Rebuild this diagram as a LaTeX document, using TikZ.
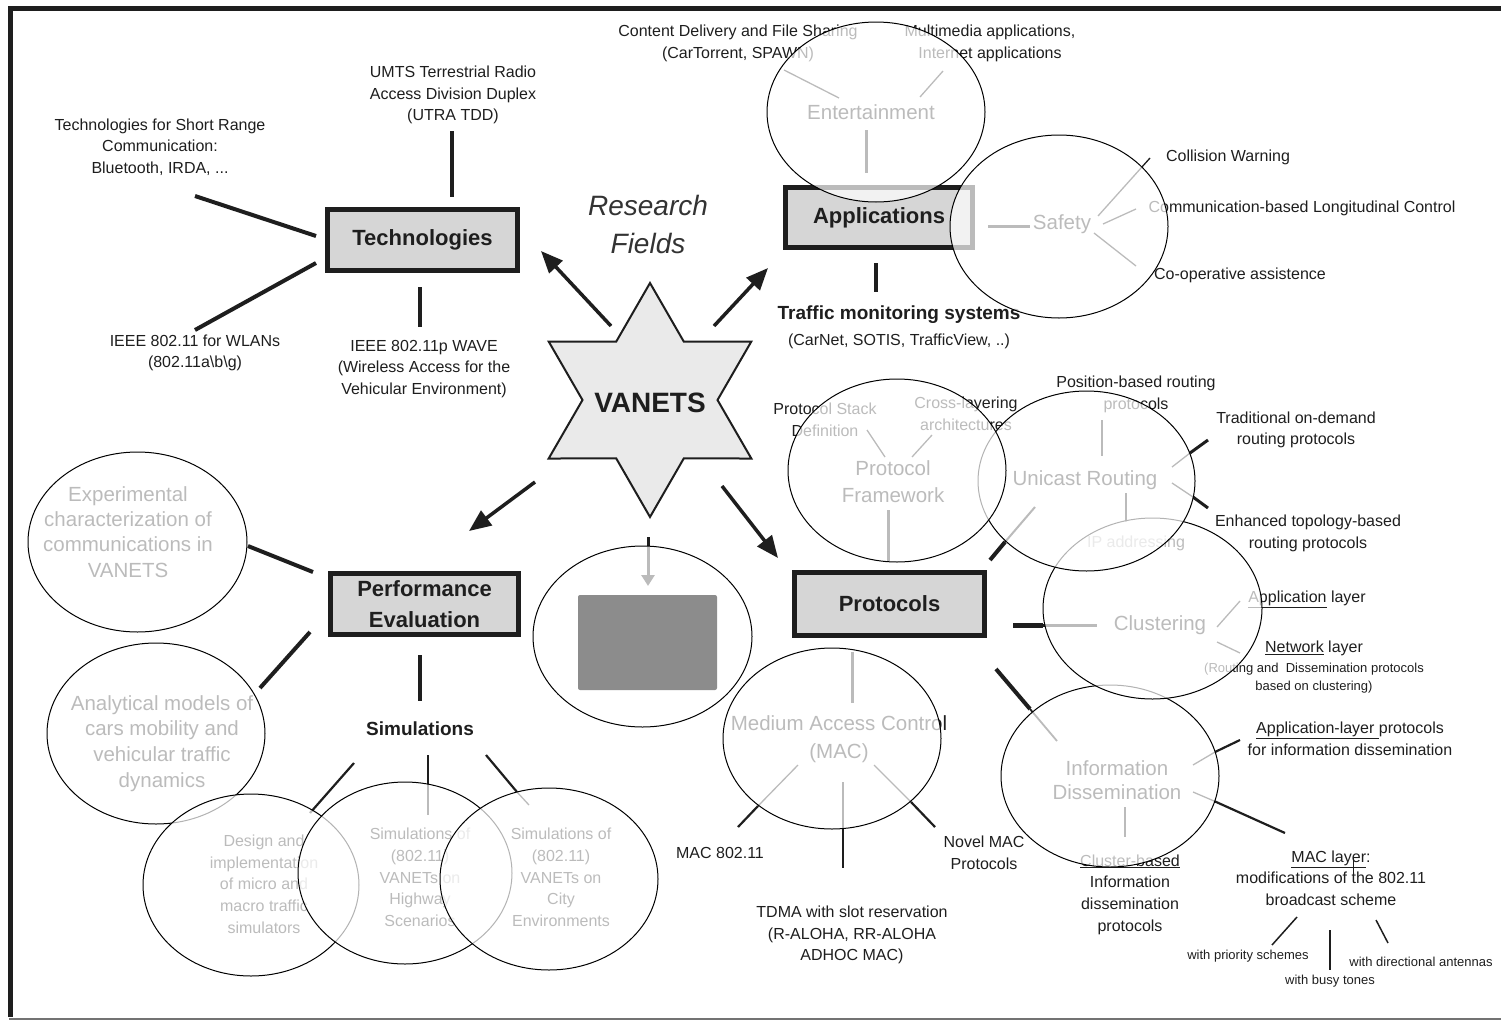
\documentclass[tikz,border=0pt]{standalone}
\usepackage{fontspec}
\setmainfont{Liberation Sans}
\usetikzlibrary{arrows.meta,shapes.geometric}
\definecolor{boxgray}{HTML}{D6D6D6}
\definecolor{stargray}{HTML}{EAEAEA}
\definecolor{ink}{HTML}{1E1E1E}
\begin{document}
\begin{tikzpicture}[x=1pt,y=-1pt,
  every node/.style={text=ink},
  lbl/.style={font=\fontsize{16}{21.7}\selectfont, align=center, inner sep=0pt},
  small/.style={font=\fontsize{13}{18}\selectfont, align=center, inner sep=0pt},
  topic/.style={font=\fontsize{20.5}{25.5}\selectfont, align=center, inner sep=0pt},
  bold19/.style={font=\bfseries\fontsize{19}{24}\selectfont, inner sep=0pt},
  field/.style={draw=ink, line width=5pt, fill=boxgray, align=center, inner sep=0pt,
                font=\bfseries\fontsize{22}{31}\selectfont},
  thickl/.style={draw=ink, line width=4pt},
  medl/.style={draw=ink, line width=2.2pt},
  thinl/.style={draw=ink, line width=1.3pt},
  ray/.style={draw=ink, line width=3.5pt, -{Triangle[length=22pt,width=18pt]}},
  zone/.style={ellipse, draw=black, line width=1pt, fill=white, fill opacity=0.7, inner sep=0pt},
]
\useasboundingbox (0,0) rectangle (1501,1020);

% page frame
\draw[line width=5pt, ink] (1501,8) -- (10,8) -- (10,1017);
\draw[line width=2pt, black!55] (9,1018.5) -- (1501,1018.5);

% ---------------- central star ----------------
\filldraw[fill=stargray, draw=ink, line width=2pt, shift={(650,400)}]
  (90:117) -- (120:67.5) -- (150:117) -- (180:67.5) -- (210:117) -- (240:67.5)
  -- (270:117) -- (300:67.5) -- (330:117) -- (0:67.5) -- (30:117) -- (60:67.5) -- cycle;
\node[font=\bfseries\fontsize{28}{30}\selectfont, inner sep=0pt] (vanets) at (650,403) {VANETS};
\node[font=\itshape\fontsize{28}{38}\selectfont, align=center, inner sep=0pt, text=black!80] (rf) at (648,224) {Research\\Fields};

% ---------------- field boxes ----------------
\node[field, minimum width=190pt, minimum height=61pt] (tech) at (422.5,240) {Technologies};
\node[field, minimum width=187pt, minimum height=60pt] (app) at (879,217.5) {Applications};
\node[field, minimum width=188pt, minimum height=61pt] (perf) at (424.5,604) {Performance\\Evaluation};
\node[field, minimum width=190pt, minimum height=63pt] (prot) at (889.5,604) {Protocols};

% ---------------- connector end points ----------------
\path
  (611,326) coordinate (sT)  (541,251) coordinate (hT)
  (714,326) coordinate (sA)  (768,268) coordinate (hA)
  (535,482) coordinate (sP)  (469,531) coordinate (hP)
  (722,486) coordinate (sR)  (778,558) coordinate (hR)
  (648,537) coordinate (sD)  (648,586) coordinate (hD)
  % technologies
  (195,196) coordinate (t1) (316,236) coordinate (t2)
  (195,330) coordinate (t3) (316,263) coordinate (t4)
  (452,131) coordinate (t5) (452,197) coordinate (t6)
  (420,287) coordinate (t7) (420,327) coordinate (t8)
  % applications
  (784,70) coordinate (a1) (839,98) coordinate (a2)
  (943,71) coordinate (a3) (920,97) coordinate (a4)
  (866,130) coordinate (a5) (866,173) coordinate (a6)
  (988,226) coordinate (a7) (1030,226) coordinate (a8)
  (876,263) coordinate (a9) (876,292) coordinate (a10)
  (1098,216) coordinate (s1) (1150,158) coordinate (s2)
  (1103,224) coordinate (s3) (1136,209) coordinate (s4)
  (1094,233) coordinate (s5) (1136,266) coordinate (s6)
  % protocols
  (888,510) coordinate (p1) (888,561) coordinate (p2)
  (867,430) coordinate (p3) (885,457) coordinate (p4)
  (932,435) coordinate (p5) (912,457) coordinate (p6)
  (1102,420) coordinate (u1) (1102,456) coordinate (u2)
  (1126,493) coordinate (u3) (1126,522) coordinate (u4)
  (1172,467) coordinate (u5) (1190,453) coordinate (ub1) (1208,440) coordinate (u6)
  (1172,483) coordinate (u7) (1193,497) coordinate (ub2) (1208,508) coordinate (u8)
  (990,560) coordinate (u9) (1005,542) coordinate (ub3) (1035,507) coordinate (u10)
  (1013,625) coordinate (c1) (1043,625) coordinate (cb) (1097,625) coordinate (c2)
  (1217,627) coordinate (c3) (1240,601) coordinate (c4)
  (1217,642) coordinate (c5) (1240,653) coordinate (c6)
  (996,669) coordinate (i1) (1030,709) coordinate (ib1) (1057,741) coordinate (i2)
  (1125,807) coordinate (i3) (1125,837) coordinate (i4)
  (1193,765) coordinate (i5) (1215,752) coordinate (ib2) (1240,740) coordinate (i6)
  (1193,792) coordinate (i7) (1214,801) coordinate (ib3) (1285,833) coordinate (i8)
  (1297,917) coordinate (i9) (1272,945) coordinate (i10)
  (1330,930) coordinate (i11) (1330,970) coordinate (i12)
  (1376,920) coordinate (i13) (1388,943) coordinate (i14)
  (1353,858) coordinate (i15) (1353,877) coordinate (i16)
  (852,652) coordinate (m1) (852,703) coordinate (m2)
  (798,765) coordinate (m3) (758,806) coordinate (mb1) (738,827) coordinate (m4)
  (843,782) coordinate (m5) (843,868) coordinate (m6)
  (874,765) coordinate (m7) (911,802) coordinate (mb2) (935,827) coordinate (m8)
  % performance evaluation
  (248,546) coordinate (e1) (313,572) coordinate (e2)
  (260,688) coordinate (e3) (310,632) coordinate (e4)
  (420,655) coordinate (e5) (420,701) coordinate (e6)
  (354,763) coordinate (e7) (310,813) coordinate (e8)
  (428,755) coordinate (e9) (428,815) coordinate (e10)
  (486,755) coordinate (e11) (517,792) coordinate (eb) (529,805) coordinate (e12);

% ---------------- arrows out of the star ----------------
\draw[ray] (sT) -- (hT);
\draw[ray] (sA) -- (hA);
\draw[ray] (sP) -- (hP);
\draw[ray] (sR) -- (hR);
\draw[draw=ink, line width=3pt, -{Triangle[length=11pt,width=13pt]}] (sD) -- (hD);

% ---------------- Technologies ----------------
\node[lbl] (utra) at (453,95) {UMTS Terrestrial Radio\\Access Division Duplex\\(UTRA TDD)};
\node[lbl] (short) at (160,147) {Technologies for Short Range\\Communication:\\Bluetooth, IRDA, ...};
\node[lbl] (wlan) at (195,353) {IEEE 802.11 for WLANs\\(802.11a\textbackslash b\textbackslash g)};
\node[lbl] (wave) at (424,369) {IEEE 802.11p WAVE\\(Wireless Access for the\\Vehicular Environment)};
\draw[thickl] (t1) -- (t2);
\draw[thickl] (t3) -- (t4);
\draw[thickl] (t5) -- (t6);
\draw[thickl] (t7) -- (t8);

% ---------------- Applications ----------------
\node[lbl] (cdfs) at (738,43.5) {Content Delivery and File Sharing\\(CarTorrent, SPAWN)};
\node[lbl] (mm) at (990,43.5) {Multimedia applications,\\Internet applications};
\node[topic] (ent) at (871,112) {Entertainment};
\node[topic] (safety) at (1062,224) {Safety};
\node[lbl] (cw) at (1228,157) {Collision Warning};
\node[lbl] (cblc) at (1302,208) {Communication-based Longitudinal Control};
\node[lbl] (coop) at (1240,275) {Co-operative assistence};
\node[bold19] (tms) at (899,315) {Traffic monitoring systems};
\node[lbl] (tmsx) at (899,341) {(CarNet, SOTIS, TrafficView, ..)};
\draw[thinl] (a1) -- (a2);
\draw[thinl] (a3) -- (a4);
\draw[draw=ink, line width=3pt] (a5) -- (a6);
\draw[draw=ink, line width=3pt] (a7) -- (a8);
\draw[thickl] (a9) -- (a10);
\draw[thinl] (s1) -- (s2);
\draw[thinl] (s3) -- (s4);
\draw[thinl] (s5) -- (s6);

% ---------------- Protocols ----------------
\node[lbl] (pstack) at (825,420) {Protocol Stack\\Definition};
\node[lbl] (cross) at (966,414) {Cross-layering\\architectures};
\node[topic, font=\fontsize{20.5}{27}\selectfont] (pf) at (893,481.5) {Protocol\\Framework};
\node[lbl] (pos) at (1136,394.5) {Position-based routing\\protocols};
\node[topic] (uni) at (1085,480) {Unicast Routing};
\node[lbl] (ip) at (1136,543) {IP addressing};
\node[lbl] (trad) at (1296,430) {Traditional on-demand\\routing protocols};
\node[lbl] (enh) at (1308,533.5) {Enhanced topology-based\\routing protocols};
\node[topic] (clu) at (1160,625) {Clustering};
\node[lbl] (appl) at (1307,599) {\underline{Application} layer};
\node[lbl] (netl) at (1314,648) {\underline{Network} layer};
\node[small] (rd) at (1314,678) {(Routing and\ \ Dissemination protocols\\based on clustering)};
\node[topic, font=\fontsize{20.5}{24.5}\selectfont] (info) at (1117,780) {Information\\Dissemination};
\node[lbl] (cbased) at (1130,894.5) {\underline{Cluster-based}\\Information\\dissemination\\protocols};
\node[lbl] (alp) at (1350,739) {\underline{Application-layer }protocols\\for information dissemination};
\node[lbl] (macl) at (1331,878) {\underline{MAC layer}:\\modifications of the 802.11\\broadcast scheme};
\node[small] (prio) at (1248,956) {with priority schemes};
\node[small] (busy) at (1330,981) {with busy tones};
\node[small] (dir) at (1421,962) {with directional antennas};
\node[topic, font=\fontsize{20.5}{28}\selectfont] (macx) at (839,739) {Medium Access Control\\(MAC)};
\node[lbl] (mac11) at (720,853) {MAC 802.11};
\node[lbl] (tdma) at (852,935) {TDMA with slot reservation\\(R-ALOHA, RR-ALOHA\\ADHOC MAC)};
\node[lbl] (novel) at (984,852.5) {Novel MAC\\Protocols};
\draw[draw=ink, line width=3pt] (p1) -- (p2);
\draw[thinl] (p3) -- (p4);
\draw[thinl] (p5) -- (p6);
\draw[thinl] (u1) -- (u2);
\draw[thinl] (u3) -- (u4);
\draw[thinl] (u5) -- (ub1);
\draw[draw=ink, line width=3pt] (ub1) -- (u6);
\draw[thinl] (u7) -- (ub2);
\draw[draw=ink, line width=3pt] (ub2) -- (u8);
\draw[thickl] (u9) -- (ub3);
\draw[draw=ink, line width=2pt] (ub3) -- (u10);
\draw[draw=ink, line width=5pt] (c1) -- (cb);
\draw[draw=ink, line width=3pt] (cb) -- (c2);
\draw[thinl] (c3) -- (c4);
\draw[thinl] (c5) -- (c6);
\draw[thickl] (i1) -- (ib1);
\draw[draw=ink, line width=1.8pt] (ib1) -- (i2);
\draw[thinl] (i3) -- (i4);
\draw[thinl] (i5) -- (ib2);
\draw[medl] (ib2) -- (i6);
\draw[thinl] (i7) -- (ib3);
\draw[medl] (ib3) -- (i8);
\draw[draw=ink, line width=1.5pt] (i9) -- (i10);
\draw[draw=ink, line width=1.5pt] (i11) -- (i12);
\draw[draw=ink, line width=1.5pt] (i13) -- (i14);
\draw[draw=ink, line width=1pt] (i15) -- (i16);
\draw[draw=ink, line width=3pt] (m1) -- (m2);
\draw[thinl] (m3) -- (mb1);
\draw[medl] (mb1) -- (m4);
\draw[draw=ink, line width=1.5pt] (m5) -- (m6);
\draw[thinl] (m7) -- (mb2);
\draw[medl] (mb2) -- (m8);

% ---------------- Performance Evaluation ----------------
\node[topic, font=\fontsize{20.5}{25.3}\selectfont] (exp) at (128,532) {Experimental\\characterization of\\communications in\\VANETS};
\node[topic, font=\fontsize{20.5}{25.7}\selectfont] (ana) at (162,743.5) {Analytical models of\\cars mobility and\\vehicular traffic\\dynamics};
\node[bold19] (sim) at (420,729) {Simulations};
\node[lbl] (design) at (264,884) {Design and\\implementation\\of micro and\\macro traffic\\simulators};
\node[lbl] (hwy) at (420,877.5) {Simulations of\\(802.11)\\VANETs on\\Highway\\Scenarios};
\node[lbl] (city) at (561,877.5) {Simulations of\\(802.11)\\VANETs on\\City\\Environments};
\draw[thickl] (e1) -- (e2);
\draw[thickl] (e3) -- (e4);
\draw[thickl] (e5) -- (e6);
\draw[medl] (e7) -- (e8);
\draw[thinl] (e9) -- (e10);
\draw[medl] (e11) -- (eb);
\draw[thinl] (eb) -- (e12);

% ---------------- highlighted zones (wash out what lies inside) ----------------
\node[zone, minimum width=218pt, minimum height=182pt] (zInfo) at (1110,776) {};
\node[zone, minimum width=219pt, minimum height=181pt] (zClu) at (1152.5,608.5) {};
\node[zone, minimum width=217pt, minimum height=180pt] (zUni) at (1086.5,481) {};
\node[zone, minimum width=218pt, minimum height=183pt] (zPf) at (897,470.5) {};
\node[zone, minimum width=218pt, minimum height=181pt] (zMac) at (832,738.5) {};
\node[zone, minimum width=218pt, minimum height=180pt] (zEnt) at (876,112) {};
\node[zone, minimum width=218pt, minimum height=183pt] (zSafe) at (1059,226.5) {};
\node[zone, minimum width=218pt, minimum height=181pt] (zAna) at (156,733.5) {};
\node[zone, minimum width=216pt, minimum height=182pt] (zDes) at (251,885) {};
\node[zone, minimum width=214pt, minimum height=182pt] (zHwy) at (405,873) {};
\node[zone, minimum width=218pt, minimum height=182pt] (zCity) at (549,879) {};
\node[zone, minimum width=219pt, minimum height=180pt] (zExp) at (137.5,542) {};
\node[zone, minimum width=219pt, minimum height=181pt] (zBlk) at (642.5,636.5) {};

% shaded block inside the zone below the star
\node[fill=black!45, rounded corners=2pt, minimum width=139pt, minimum height=95pt, inner sep=0pt] (block) at (647.5,642.5) {};

\end{tikzpicture}
\end{document}
